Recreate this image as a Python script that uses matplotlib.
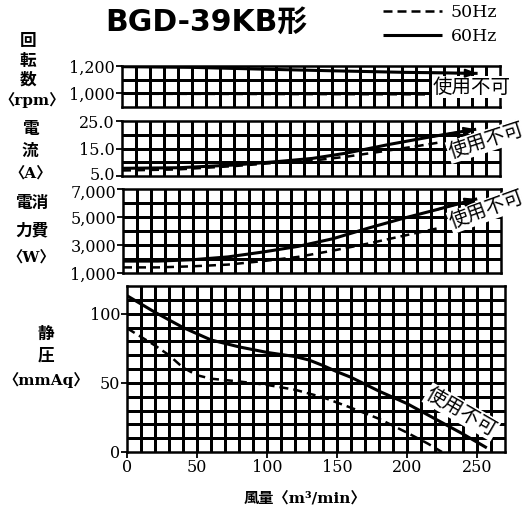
import numpy as np
import matplotlib
matplotlib.use("Agg")
import matplotlib.pyplot as plt
import matplotlib.transforms as mtransforms

plt.rcParams['font.family'] = ['DejaVu Serif', 'Noto Sans CJK JP']

# ------------------------------------------------------------------
# data (flow in m3/min)
# ------------------------------------------------------------------
rpm60_q = [0, 50, 100, 150, 200, 254]
rpm60 = [1195, 1190, 1177, 1165, 1154, 1146]
rpm50_q = [0, 100, 200, 220]
rpm50 = [997, 995, 993, 992]

cur60_q = [0, 40, 80, 110, 136, 160, 190, 220, 253]
cur60 = [7.8, 8.0, 9.0, 10.2, 11.4, 13.3, 16.4, 19.2, 22.0]
cur50_q = [0, 40, 80, 110, 136, 160, 184, 210, 228]
cur50 = [7.0, 7.4, 8.6, 9.8, 10.6, 12.0, 13.8, 15.8, 17.3]

pow60_q = [0, 25, 50, 75, 100, 125, 150, 175, 200, 225, 253]
pow60 = [1850, 1850, 1950, 2150, 2500, 2900, 3450, 4200, 4900, 5550, 6300]
pow50_q = [0, 25, 50, 75, 100, 125, 150, 175, 200, 225]
pow50 = [1400, 1400, 1480, 1600, 1850, 2150, 2600, 3100, 3650, 4200]

pres60_q = [0, 20, 40, 60, 80, 100, 120, 130, 140, 150, 160, 180, 200, 220, 240, 257]
pres60 = [113, 101, 90, 81, 76, 72, 69, 66.5, 62.5, 58, 54, 44, 35, 24, 13, 3]
pres50_q = [0, 20, 30, 40, 50, 60, 80, 100, 120, 140, 160, 180, 200, 215, 225]
pres50 = [89.5, 77, 70, 61, 55.5, 53, 51, 48.5, 45, 39.5, 32, 24, 14, 6, 0]

rpm_ticks = [1000, 1200]
rpm_labels = ["1,000", "1,200"]
cur_ticks = [5, 15, 25]
cur_labels = ["5.0", "15.0", "25.0"]
pow_ticks = [1000, 3000, 5000, 7000]
pow_labels = ["1,000", "3,000", "5,000", "7,000"]
pres_ticks = [0, 50, 100]
flow_ticks = [0, 50, 100, 150, 200, 250]

# ------------------------------------------------------------------
W, H = 532, 516
fig = plt.figure(figsize=(W / 100, H / 100), dpi=100)
fig.patch.set_facecolor("white")


def px_axes(l, t, r, b):
    return fig.add_axes([l / W, 1 - b / H, (r - l) / W, (b - t) / H])


def fx(x):
    return x / W


def fy(y):
    return 1 - y / H


SOLID = dict(color="black", lw=2.2, solid_capstyle="butt", zorder=4)
DASH = dict(color="black", lw=1.8, ls=(0, (3.6, 2.0)), zorder=4)
NOTE = dict(family=["Noto Sans CJK JP"], fontsize=14, ha="center", va="center",
            zorder=3, clip_on=False,
            bbox=dict(facecolor="white", edgecolor="none", pad=0.5))
TICKFS = 11.5
GRID_X = np.arange(10, 270, 10)
GRID_LW = 0.8


def setup(ax, ylo, yhi, ystep, ticks, labels, xlab=False):
    ax.set_xlim(0, 270)
    ax.set_ylim(ylo, yhi)
    # square grid, 10 m3/min wide cells
    for x in GRID_X:
        ax.plot([x, x], [ylo, yhi], color="black", lw=GRID_LW,
                antialiased=False, zorder=1)
    for y in np.arange(ylo + ystep, yhi, ystep):
        ax.plot([0, 270], [y, y], color="black", lw=GRID_LW,
                antialiased=False, zorder=1)
    ax.set_yticks(ticks)
    ax.set_yticklabels(labels, fontsize=TICKFS)
    if xlab:
        ax.set_xticks(flow_ticks)
        ax.set_xticklabels([str(v) for v in flow_ticks], fontsize=TICKFS)
    else:
        ax.set_xticks([])
    ax.tick_params(which="major", length=4, width=1.3, pad=1)
    for s in ax.spines.values():
        s.set_linewidth(1.8)


def arrow_end(ax, q, v):
    ax.annotate("", xy=(q[-1], v[-1]), xytext=(q[-2], v[-2]),
                arrowprops=dict(arrowstyle="-|>,head_length=0.7,head_width=0.25",
                                color="black", lw=1.5, shrinkA=0, shrinkB=0),
                zorder=5)


def nudge(label, dy_pt):
    label.set_transform(label.get_transform() +
                        mtransforms.ScaledTranslation(0, dy_pt / 72, fig.dpi_scale_trans))


# rpm
ax1 = px_axes(122, 66, 500, 107)
setup(ax1, 900, 1200, 100, rpm_ticks, rpm_labels)
ax1.plot(rpm60_q, rpm60, **SOLID)
ax1.plot(rpm50_q, rpm50, **DASH)
arrow_end(ax1, rpm60_q, rpm60)
ax1.text(250, 1045, "使用不可", **NOTE)

# current
ax2 = px_axes(122, 121, 500, 176)
setup(ax2, 5, 25, 5, cur_ticks, cur_labels)
ax2.plot(cur60_q, cur60, **SOLID)
ax2.plot(cur50_q, cur50, **DASH)
arrow_end(ax2, cur60_q, cur60)
ax2.text(260, 17.7, "使用不可", rotation=18, rotation_mode="anchor", **NOTE)

# power
ax3 = px_axes(123, 189, 501, 273)
setup(ax3, 1000, 7000, 1000, pow_ticks, pow_labels)
ax3.plot(pow60_q, pow60, **SOLID)
ax3.plot(pow50_q, pow50, **DASH)
arrow_end(ax3, pow60_q, pow60)
ax3.text(260, 5500, "使用不可", rotation=20, rotation_mode="anchor", **NOTE)

# keep "5.0" and "7,000" from touching
nudge(ax2.get_yticklabels()[0], 1.5)
nudge(ax3.get_yticklabels()[-1], -1.5)

# static pressure
ax4 = px_axes(127, 286, 505, 452)
setup(ax4, 0, 120, 10, pres_ticks, [str(v) for v in pres_ticks], xlab=True)
h50, = ax4.plot(pres50_q, pres50, **DASH)
h60, = ax4.plot(pres60_q, pres60, **SOLID)
ax4.text(239, 29, "使用不可", rotation=-30, rotation_mode="anchor",
         **{**NOTE, "zorder": 3.5})

# title and legend
fig.text(fx(206), fy(22), "BGD-39KB形", family=["DejaVu Sans", "Noto Sans CJK JP"],
         fontsize=21.5, weight="bold", ha="center", va="center")
fig.legend([h50, h60], ["50Hz", "60Hz"], loc="upper right",
           bbox_to_anchor=(fx(497), fy(4)), frameon=False, fontsize=12.5,
           handlelength=3.4, handletextpad=0.5, labelspacing=0.4,
           borderaxespad=0, borderpad=0)

# axis titles (vertical Japanese)
lab = dict(family=["Noto Sans CJK JP"], fontsize=12, weight="bold",
           ha="center", va="center")
unit = dict(fontsize=11, weight="bold", ha="center", va="center")
fig.text(fx(28), fy(41), "回", **lab)
fig.text(fx(28), fy(61), "転", **lab)
fig.text(fx(28), fy(80), "数", **lab)
fig.text(fx(32), fy(100), "〈rpm〉", **unit)
fig.text(fx(30), fy(129), "電", **lab)
fig.text(fx(30), fy(151), "流", **lab)
fig.text(fx(31), fy(173), "〈A〉", **unit)
fig.text(fx(32), fy(203), "電消", **lab)
fig.text(fx(32), fy(230), "力費", **lab)
fig.text(fx(31), fy(257), "〈W〉", **unit)
fig.text(fx(46), fy(334), "静", **lab)
fig.text(fx(46), fy(355), "圧", **lab)
fig.text(fx(46), fy(380), "〈mmAq〉", **unit)
fig.text(fx(305), fy(498), "風量〈m³/min〉", **unit)

fig.savefig("out.png", dpi=100, facecolor="white")
